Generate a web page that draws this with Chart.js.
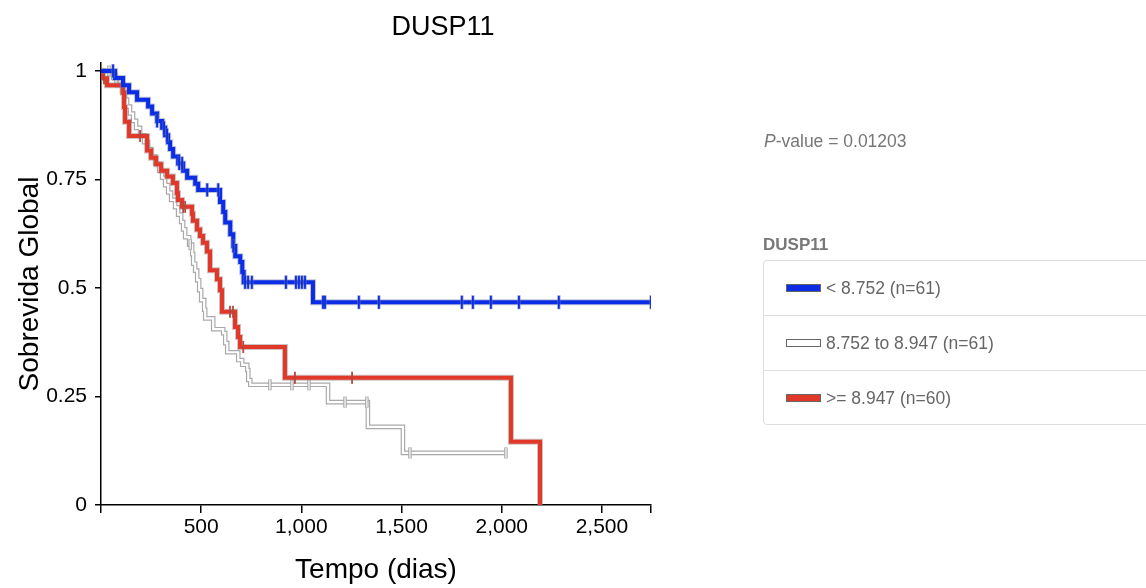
<!DOCTYPE html>
<html>
<head>
<meta charset="utf-8">
<script src="https://cdn.jsdelivr.net/npm/chart.js@4.4.1/dist/chart.umd.min.js"></script>
<style>
  html, body { margin: 0; padding: 0; background: #fff; }
  #wrap { position: relative; width: 1146px; height: 588px; overflow: hidden; font-family: "Liberation Sans", Arial, sans-serif; }
  #km { position: absolute; left: 0; top: 0; }
  .pval { position: absolute; left: 764px; top: 131px; font-size: 17.5px; color: #777; }
  .gname { position: absolute; left: 763px; top: 235px; font-size: 17px; font-weight: bold; color: #777; }
  .box { position: absolute; left: 763px; top: 260px; width: 420px; height: 163px; border: 1px solid #ddd; border-radius: 4px; }
  .row { height: 54px; border-bottom: 1px solid #ddd; display: flex; align-items: center; padding-left: 22px; font-size: 17.5px; color: #666; }
  .row:last-child { border-bottom: none; }
  .sw { display: inline-block; width: 33px; height: 6px; margin-right: 5px; border: 1px solid #666; }
</style>
</head>
<body>
<div id="wrap">
  <canvas id="km" width="1146" height="588"></canvas>
  <div class="pval"><i>P</i>-value = 0.01203</div>
  <div class="gname">DUSP11</div>
  <div class="box">
    <div class="row"><span class="sw" style="background:#0b2de6"></span>&lt; 8.752 (n=61)</div>
    <div class="row"><span class="sw" style="background:#fff"></span>8.752 to 8.947 (n=61)</div>
    <div class="row"><span class="sw" style="background:#e2382a"></span>&gt;= 8.947 (n=60)</div>
  </div>
</div>
<script>
  // survival steps (days, survival after the event)
  var blueTimes = [70, 110, 140, 180, 235, 255, 280, 305, 320, 335, 345, 360, 385, 410, 430, 470, 485, 594, 610, 620, 645, 660, 670, 695, 705, 712, 1058];
  var blueSurv = [0.984, 0.967, 0.951, 0.934, 0.918, 0.902, 0.885, 0.869, 0.852, 0.836, 0.820, 0.803, 0.787, 0.770, 0.754, 0.740, 0.726, 0.698, 0.675, 0.651, 0.624, 0.597, 0.573, 0.560, 0.537, 0.513, 0.467];
  var blueCensor = [60, 280, 315, 330, 390, 405, 530, 585, 660, 719, 734, 753, 923, 973, 988, 1003, 1018, 1108, 1118, 1287, 1387, 1801, 1856, 1946, 2086, 2285, 2745];
  var blueEnd = 2745;

  var greyTimes = [60, 80, 105, 120, 130, 145, 160, 175, 195, 215, 235, 250, 270, 290, 305, 320, 335, 350, 370, 385, 400, 410, 420, 440, 455, 460, 470, 480, 490, 500, 515, 520, 560, 610, 620, 630, 685, 705, 730, 735, 745, 1133, 1332, 1507];
  var greySurv = [0.984, 0.967, 0.951, 0.934, 0.918, 0.902, 0.885, 0.869, 0.852, 0.836, 0.820, 0.803, 0.787, 0.770, 0.754, 0.737, 0.720, 0.703, 0.686, 0.669, 0.652, 0.635, 0.617, 0.600, 0.578, 0.556, 0.540, 0.518, 0.495, 0.472, 0.450, 0.430, 0.405, 0.396, 0.373, 0.352, 0.334, 0.323, 0.311, 0.288, 0.277, 0.237, 0.180, 0.120];
  var greyCensor = [40, 75, 445, 843, 953, 1038, 1218, 1327, 1542, 2021];
  var greyEnd = 2021;

  var redTimes = [10, 30, 110, 115, 120, 140, 230, 250, 275, 300, 330, 359, 379, 384, 404, 454, 459, 479, 494, 509, 529, 544, 579, 594, 604, 669, 684, 694, 918, 2046, 2191];
  var redSurv = [0.983, 0.967, 0.950, 0.917, 0.883, 0.850, 0.817, 0.800, 0.785, 0.770, 0.757, 0.742, 0.719, 0.703, 0.687, 0.671, 0.655, 0.635, 0.620, 0.604, 0.584, 0.541, 0.520, 0.495, 0.445, 0.410, 0.387, 0.364, 0.293, 0.146, 0];
  var redCensor = [15, 195, 410, 420, 644, 659, 710, 968, 1253];
  var redEnd = 2191;

  var xTickValues = [0, 500, 1000, 1500, 2000, 2500, 2745];
  var yTickValues = [0, 0.25, 0.5, 0.75, 1];

  var blue = "#0b2de6";
  var red = "#e2382a";
  var fontFamily = '"Liberation Sans", Arial, sans-serif';

  function stepData(times, surv, end) {
    var pts = [{ x: 0, y: 1 }];
    for (var i = 0; i < times.length; i++) {
      pts.push({ x: times[i], y: surv[i] });
    }
    var last = surv[surv.length - 1];
    if (end > times[times.length - 1]) {
      pts.push({ x: end, y: last });
    }
    return pts;
  }

  function survAt(times, surv, t) {
    var s = 1;
    for (var i = 0; i < times.length; i++) {
      if (times[i] <= t) s = surv[i];
    }
    return s;
  }

  function censorData(times, surv, cens) {
    return cens.map(function (t) {
      return { x: t, y: survAt(times, surv, t) };
    });
  }

  function lineSet(data, color, width, order) {
    return {
      data: data,
      borderColor: color,
      borderWidth: width,
      stepped: "before",
      pointRadius: 0,
      fill: false,
      order: order,
    };
  }

  function tickSet(data, color, width, radius, order) {
    return {
      data: data,
      showLine: false,
      pointStyle: "line",
      rotation: 90,
      pointRadius: radius,
      pointBorderColor: color,
      pointBorderWidth: width,
      borderColor: color,
      order: order,
    };
  }

  // title centred over the left part of the page, as in the picture
  var titlePlugin = {
    id: "kmTitle",
    afterDraw: function (chart) {
      var ctx = chart.ctx;
      ctx.save();
      ctx.fillStyle = "#000";
      ctx.font = "27px " + fontFamily;
      ctx.textAlign = "center";
      ctx.textBaseline = "middle";
      ctx.fillText("DUSP11", 443, 28);
      ctx.restore();
    },
  };

  var blueLine = stepData(blueTimes, blueSurv, blueEnd);
  var greyLine = stepData(greyTimes, greySurv, greyEnd);
  var redLine = stepData(redTimes, redSurv, redEnd);
  var blueTicks = censorData(blueTimes, blueSurv, blueCensor);
  var greyTicks = censorData(greyTimes, greySurv, greyCensor);
  var redTicks = censorData(redTimes, redSurv, redCensor);

  new Chart(document.getElementById("km"), {
    type: "line",
    data: {
      datasets: [
        tickSet(blueTicks, "rgba(110,120,170,0.55)", 3.5, 7, 1),
        tickSet(blueTicks, blue, 1.8, 6.5, 0),
        lineSet(blueLine, "rgba(120,125,160,0.45)", 6, 3),
        lineSet(blueLine, blue, 4, 2),
        tickSet(redTicks, "#b5473e", 1.8, 6, 4),
        lineSet(redLine, "rgba(140,120,120,0.45)", 6, 6),
        lineSet(redLine, red, 4, 5),
        tickSet(greyTicks, "#fff", 1.2, 5, 7),
        tickSet(greyTicks, "#a8a8a8", 3.5, 5.5, 8),
        lineSet(greyLine, "#fff", 2.2, 9),
        lineSet(greyLine, "#a9a9a9", 4.6, 10),
      ],
    },
    plugins: [titlePlugin],
    options: {
      responsive: false,
      animation: false,
      devicePixelRatio: 1,
      layout: { padding: { left: 0, right: 495, top: 63, bottom: 0 } },
      plugins: {
        legend: { display: false },
        tooltip: { enabled: false },
        title: { display: false },
      },
      scales: {
        x: {
          type: "linear",
          min: 0,
          max: 2745,
          afterBuildTicks: function (scale) {
            scale.ticks = xTickValues.map(function (v) { return { value: v }; });
          },
          afterFit: function (scale) { scale.height = 83; },
          border: { display: true, color: "#000", width: 1.5 },
          grid: { display: true, drawOnChartArea: false, drawTicks: true, tickLength: 8, color: "#000", lineWidth: 1.5 },
          ticks: {
            autoSkip: false,
            maxRotation: 0,
            padding: 2,
            color: "#000",
            font: { family: fontFamily, size: 21 },
            callback: function (value) {
              if (value === 0 || value === 2745) return "";
              return Number(value).toLocaleString("en-US");
            },
          },
          title: {
            display: true,
            text: "Tempo (dias)",
            color: "#000",
            font: { family: fontFamily, size: 28 },
            padding: { top: 0, bottom: 1 },
          },
        },
        y: {
          type: "linear",
          min: 0,
          max: 1.0184,
          afterBuildTicks: function (scale) {
            scale.ticks = yTickValues.map(function (v) { return { value: v }; });
          },
          afterFit: function (scale) { scale.width = 101; },
          border: { display: true, color: "#000", width: 1.5 },
          grid: { display: true, drawOnChartArea: false, drawTicks: true, tickLength: 6, color: "#000", lineWidth: 1.5 },
          ticks: {
            autoSkip: false,
            padding: 8,
            color: "#000",
            font: { family: fontFamily, size: 21 },
            callback: function (value) { return String(value); },
          },
          title: {
            display: true,
            text: "Sobrevida Global",
            color: "#000",
            font: { family: fontFamily, size: 28 },
            padding: { top: 13, bottom: 0 },
          },
        },
      },
    },
  });
</script>
</body>
</html>
